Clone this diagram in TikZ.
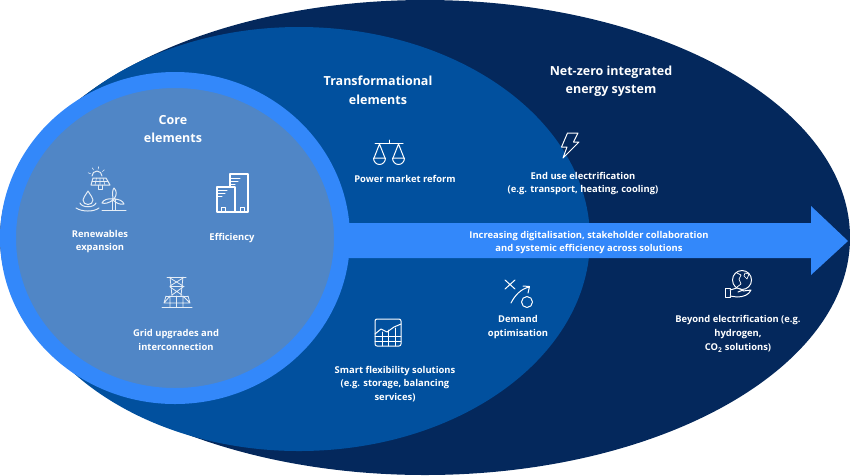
\documentclass[tikz,border=0pt]{standalone}
\usepackage{fontspec}
\setmainfont{Open Sans}
\usetikzlibrary{shapes.geometric}
\definecolor{deep_navy}		{RGB}{4,40,92}
\definecolor{mid_blue}		{RGB}{1,80,158}
\definecolor{bright_blue}	{RGB}{51,136,250}
\definecolor{core_blue}		{RGB}{80,134,198}

\begin{document}
\begin{tikzpicture}[x=1pt, y=-1pt,
		area/.style     = {ellipse,
			inner sep      = 0,
			outer sep      = 0},
		title/.style    = {text = white,
			align          = center,
			font           = \fontsize{12.5}{18.5}\selectfont\bfseries},
		caption/.style  = {text = white,
			align          = center,
			font           = \fontsize{9.4}{13.8}\selectfont\bfseries},
		icon/.style     = {draw = white,
			line width     = 1pt,
			line join      = round,
			line cap       = round},
		iconB/.style    = {draw = white!85!core_blue,
			line width     = 1pt,
			line join      = round,
			line cap       = round}]
	
	\useasboundingbox (0,0) rectangle (850,475);
	
	% nested regions
	\node[area, fill=deep_navy, minimum width=850pt, minimum height=475pt] (NetZero) at (425,237.5) {};
	\node[area, fill=mid_blue, minimum width=582pt, minimum height=424pt] (Transf) at (299,239) {};
	\node[area, fill=core_blue, draw=bright_blue, line width=16pt, minimum width=334pt, minimum height=316pt] (Core) at (175,238) {};
	
	% main arrow
	\fill[bright_blue] (345,223) -- (811,223) -- (811,206) -- (848,241) -- (811,275) -- (811,258) -- (345,258)
		to[bend left=4] cycle;
	
	% titles
	\node[title] (tCore) at (173,129) {Core\\elements};
	\node[title] (tTransf) at (378,90.5) {Transformational\\elements};
	\node[title] (tNet) at (611,81) {Net-zero integrated\\energy system};
	
	% captions
	\node[caption] (cRenew) at (100,241.5) {Renewables\\expansion};
	\node[caption] (cEff) at (232,238) {Efficiency};
	\node[caption] (cGrid) at (176,340) {Grid upgrades and\\interconnection};
	\node[caption] (cMarket) at (405,179) {Power market reform};
	\node[caption] (cEnd) at (583,183.5) {End use electrification\\(e.g. transport, heating, cooling)};
	\node[caption] (cDigi) at (589,242.5) {Increasing digitalisation, stakeholder collaboration\\and systemic efficiency across solutions};
	\node[caption] (cDemand) at (518,327) {Demand\\optimisation};
	\node[caption] (cSmart) at (395,384) {Smart flexibility solutions\\(e.g. storage, balancing\\services)};
	\node[caption] (cBeyond) at (738,334) {Beyond electrification (e.g.\\hydrogen,\\CO\textsubscript{2} solutions)};
	
	% solar panel, sun
	\draw[iconB] (92,176) arc (180:360:5 and 5);
	\foreach \a in {200,240,...,340}
		\draw[iconB, line width=0.6pt] (97,176) ++(\a:7) -- ++(\a:2.5);
	\draw[iconB, fill=core_blue] (93,178) -- (106,178) -- (110,185) -- (91,185) -- cycle;
	\draw[iconB, line width=0.6pt] (100,178) -- (100,185) (96.5,178) -- (95,185) (103,178) -- (105,185) (92,181.5) -- (108,181.5);
	\draw[iconB] (98,185) -- (98,189) -- (102,189) -- (102,185);
	% drop and waves
	\draw[iconB] (88,191) .. controls (85,196) and (83,198) .. (83,200) .. controls (83,206) and (93,206) .. (93,200) .. controls (93,198) and (91,196) .. (88,191);
	\draw[iconB] (80,203) .. controls (82,208) and (94,208) .. (96,203);
	\draw[iconB] (76,208) .. controls (82,212) and (94,212) .. (99,208);
	% wind turbine
	\draw[iconB] (112,199) -- (112,210) (115,199) -- (115,210) (102,210) -- (126,210);
	\draw[iconB] (113,199) .. controls (112,192) and (113,189) .. (114,188) .. controls (117,191) and (117,195) .. (114,199)
		.. controls (119,199) and (123,201) .. (124,204) .. controls (120,205) and (116,203) .. (113,200)
		.. controls (109,203) and (105,204) .. (102,203) .. controls (103,200) and (108,198) .. (113,199);
	
	% buildings
	\draw[icon, line width=1.2pt] (230,187) -- (230,174) -- (248,174) -- (248,212) -- (217,212) -- (217,187) -- (235,187) -- (235,212);
	\draw[icon] (231,178) -- (240,178) (231,181) -- (238,181) (231,184) -- (235,184) (218,190) -- (227,190) (218,193) -- (225,193) (218,196) -- (222,196);
	\draw[icon] (221,212) -- (221,207) -- (225,207) -- (225,212) (240,212) -- (240,207) -- (244,207) -- (244,212);
	
	% pylon
	\draw[iconB] (162,307.5) -- (192,307.5) (167,277) -- (186,277) (170,286) -- (184,286) (166,296) -- (188,296);
	\draw[iconB, line width=0.8pt] (170,277) -- (172,296) (183,277) -- (181,296) (170,278) -- (183,286) (183,278) -- (170,286) (170,287) -- (182,295) (183,287) -- (172,295);
	\draw[iconB, line width=0.8pt] (166,296) -- (164,303) -- (190,303) -- (188,296) (170,296) -- (170,307) (176.5,296) -- (176.5,307) (183,296) -- (183,307) (170,296) -- (164,303) (183,296) -- (190,303);
	
	% scales
	\draw[icon] (375,143) -- (403,143) (389,140) -- (389,143);
	\draw[icon] (379.5,144) -- (374,158) (379.5,144) -- (385,158) (398.5,144) -- (393,158) (398.5,144) -- (404,158);
	\draw[icon] (373.5,158) -- (385.5,158) arc (0:180:6 and 6.5) -- cycle;
	\draw[icon] (392.5,158) -- (404.5,158) arc (0:180:6 and 6.5) -- cycle;
	
	% bolt
	\draw[icon] (567.5,133) -- (578,133) -- (573.5,142) -- (579,142) -- (563,158) -- (567,147) -- (561.5,147) -- cycle;
	
	% x and o
	\draw[icon] (505,280) -- (515,289) (515,280) -- (505,289);
	\draw[icon] (511,303) .. controls (515,295) and (521,289) .. (529,287) (523,286) -- (529.5,286.5) -- (528,293);
	\draw[icon] (527,302) circle (5.5);
	
	% chart
	\draw[icon] (377,319) -- (399,319) to[out=0,in=90] (401,321) -- (401,344) to[out=-90,in=0] (399,346) -- (377,346) to[out=180,in=-90] (375,344) -- (375,321) to[out=90,in=180] cycle;
	\draw[icon, line width=0.7pt] (375,336) -- (401,336) (375,341) -- (401,341) (382,332) -- (382,346) (388,330) -- (388,346) (395,328) -- (395,346);
	\draw[icon] (375,334) -- (381,329) -- (387,332) -- (394,327) -- (401,324);
	
	% globe in hand
	\draw[icon] (742,280) circle (9.5);
	\draw[icon, line width=0.7pt] (737,273) -- (741,275) -- (739,279) -- (741,284) -- (737,287) (745,273) -- (749,274) -- (747,279) -- (744,276) -- cycle;
	\draw[icon, fill=deep_navy] (725,288) -- (730,288) -- (730,297) -- (725,297) -- cycle;
	\draw[icon, fill=deep_navy] (730,290) -- (737,288) -- (743,290) -- (738,292) (743,291) -- (751,290) .. controls (749,295) and (743,297) .. (737,297) -- (730,296);
	
\end{tikzpicture}
\end{document}
